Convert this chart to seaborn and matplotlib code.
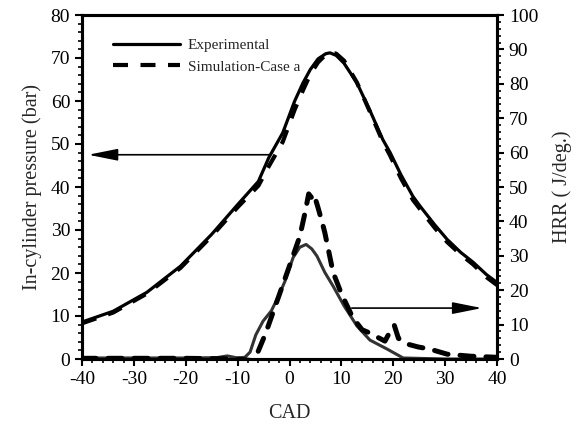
import numpy as np
import pandas as pd
import matplotlib
matplotlib.use("Agg")
import matplotlib.pyplot as plt
import seaborn as sns

# ---------------- data ----------------
cad_p = [-40, -34, -27.5, -21, -15, -10, -6, -4, -1.3, 1, 2.6, 4, 5.5, 7, 7.8, 9, 10.5,
         13, 15.5, 18, 19.4, 21.5, 23.8, 25.2, 28, 30.4, 33, 35.4, 38, 40]
p_exp = [8.6, 11.1, 15.5, 21.6, 29.0, 35.9, 41.3, 46.8, 52.6, 60.0, 64.2, 67.3, 69.8, 71.0, 71.2,
         70.6, 68.8, 64.2, 57.8, 51.0, 48.0, 42.8, 37.8, 35.5, 31.2, 27.8, 24.8, 22.5, 19.6, 17.8]
p_sim = [8.3, 10.8, 15.2, 21.2, 28.6, 35.3, 40.3, 44.8, 50.5, 58.0, 62.5, 66.2, 69.0, 70.8, 71.4,
         71.0, 69.4, 64.3, 57.5, 50.5, 47.3, 42.0, 37.0, 34.8, 30.5, 27.2, 24.3, 22.0, 19.0, 17.2]

cad_h_exp = [-40, -20, -14, -12, -10, -8.6, -7.6, -6.5, -5.1, -3.5, -2.2, -0.9, 0.7, 2, 3.2,
             4.3, 5.3, 6.8, 8.4, 10.5, 13, 15.5, 18.8, 21.9, 30, 40]
h_exp = [0.3, 0.3, 0.4, 0.9, 0.3, 0.5, 2.0, 7.0, 11.0, 14.0, 18.0, 22.5, 29.5, 32.5, 33.3,
         32.0, 29.9, 25.2, 21.2, 15.5, 9.6, 5.5, 2.9, 0.3, 0.0, 0.0]

cad_h_sim = [-40, -20, -10, -7, -6.1, -5, -4.1, -1.8, 0.1, 2, 3, 3.7, 4.2, 4.7, 5.5, 6.3, 6.8,
             8.4, 10, 12.2, 14, 15.1, 18.4, 19.4, 20.2, 21, 22.8, 24.8, 27, 30.4, 35, 40]
h_sim = [0.2, 0.2, 0.0, -0.5, 2.0, 6.0, 9.6, 19.4, 27.5, 35.7, 42.6, 48.0, 47.0, 48.0, 44.0, 39.7, 36.8,
         25.2, 19.0, 12.0, 8.5, 7.8, 5.2, 8.0, 9.8, 6.0, 4.3, 3.5, 2.9, 1.4, 0.8, 0.5]

legend_labels = ["Experimental", "Simulation-Case a"]
x_ticks = list(range(-40, 41, 10))
p_ticks = list(range(0, 81, 10))
h_ticks = list(range(0, 101, 10))

# ---------------- style ----------------
sns.set_style("ticks")
plt.rcParams['font.family'] = ['Liberation Serif', 'DejaVu Serif']
plt.rcParams['axes.unicode_minus'] = False

fig = plt.figure(figsize=(5.84, 4.30), dpi=100)
ax = fig.add_axes([82 / 584, 1 - 359 / 430, 415 / 584, 344 / 430])
ax2 = ax.twinx()

dfp = pd.DataFrame({"CAD": cad_p, "exp": p_exp, "sim": p_sim})
dfhe = pd.DataFrame({"CAD": cad_h_exp, "HRR": h_exp})
dfhs = pd.DataFrame({"CAD": cad_h_sim, "HRR": h_sim})

# HRR curves (right axis)
sns.lineplot(data=dfhe, x="CAD", y="HRR", ax=ax2, color="#333333", lw=2.2,
             estimator=None, sort=False)
sns.lineplot(data=dfhs, x="CAD", y="HRR", ax=ax2, color="black", lw=3.6,
             estimator=None, sort=False)
ax2.lines[-1].set_dashes((2.8, 2.4))
ax2.lines[-1].set_dash_capstyle('round')

# Pressure curves (left axis)
sns.lineplot(data=dfp, x="CAD", y="exp", ax=ax, color="black", lw=2.3,
             estimator=None, sort=False, label=legend_labels[0])
sns.lineplot(data=dfp, x="CAD", y="sim", ax=ax, color="black", lw=3.0,
             estimator=None, sort=False, label=legend_labels[1])
ax.lines[-1].set_dashes((3.6, 3.0))

ax.set_xlim(-40, 40)
ax.set_ylim(0, 80)
ax2.set_ylim(0, 100)
ax.set_xticks(x_ticks)
ax.set_yticks(p_ticks)
ax2.set_yticks(h_ticks)
ax.set_xticks(np.arange(-40, 41, 2), minor=True)
ax.set_yticks(np.arange(0, 81, 2), minor=True)
ax2.set_yticks(np.arange(0, 101, 2), minor=True)

for a in (ax, ax2):
    for s in a.spines.values():
        s.set_visible(True)
        s.set_linewidth(2.2)
        s.set_color("black")
    a.tick_params(which="major", direction="out", length=5, width=1.5, labelsize=14,
                  colors="black")
    a.tick_params(which="minor", direction="out", length=3, width=1.2, colors="black")
ax.tick_params(axis="x", which="both", top=False)
ax2.tick_params(axis="x", which="both", top=False)

ax.set_xlabel("CAD", fontsize=14.5, labelpad=12)
ax.set_ylabel("In-cylinder pressure (bar)", fontsize=14.5, labelpad=6)
ax2.set_ylabel("HRR ( J/deg.)", fontsize=14.5, labelpad=10)

# arrows
ax.annotate("", xy=(-38.8, 47.5), xytext=(-3.8, 47.5),
            arrowprops=dict(arrowstyle="-|>,head_length=0.9,head_width=0.18",
                            mutation_scale=20, color="black", lw=1.2,
                            shrinkA=0, shrinkB=0))
ax2.annotate("", xy=(37.1, 14.8), xytext=(12.0, 14.8),
             arrowprops=dict(arrowstyle="-|>,head_length=0.9,head_width=0.18",
                             mutation_scale=20, color="black", lw=1.2,
                             shrinkA=0, shrinkB=0))

leg = ax.legend(loc="upper left", bbox_to_anchor=(0.0747, 0.931), frameon=False,
                fontsize=11, handlelength=4.4, handletextpad=0.5, labelspacing=0.5,
                borderpad=0, borderaxespad=0)

ax.set_zorder(ax2.get_zorder() + 1)
ax.patch.set_visible(False)

fig.savefig("out.png", dpi=100)
